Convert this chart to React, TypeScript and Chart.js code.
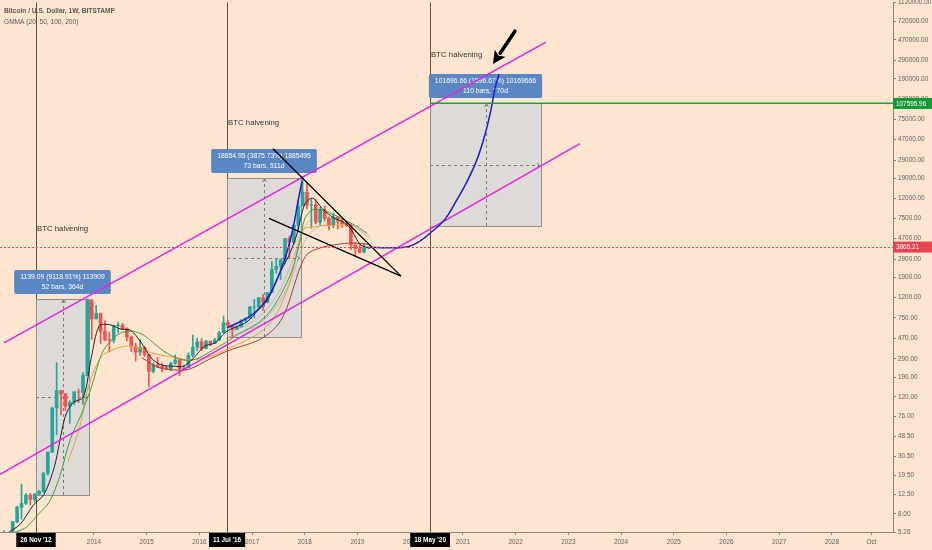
import { useEffect, useRef } from 'react';
import { Chart, registerables } from 'chart.js';

Chart.register(...registerables);

const FONT = '"Liberation Sans", Arial, sans-serif';
const BG = '#fde5cf';

// visible window (decimal years) and price range of the log axis
const xMin = 2012.217;
const xMax = 2029.16;
const yMin = 5.26;
const yMax = 1120000;

const xTickValues = [2013, 2014, 2015, 2016, 2017, 2018, 2019, 2020, 2021, 2022, 2023, 2024, 2025, 2026, 2027, 2028, 2028.75];
const yTickValues = [1120000, 720000, 470000, 290000, 190000, 120000, 75000, 47000, 29000, 19000, 12000, 7500, 4700, 2900, 1900, 1200, 750, 470, 290, 190, 120, 76, 48.5, 30.5, 19.5, 12.5, 8, 5.26];

// candles, one per month
const candleMonths = [
  '2012-04', '2012-05', '2012-06', '2012-07', '2012-08', '2012-09', '2012-10', '2012-11', '2012-12',
  '2013-01', '2013-02', '2013-03', '2013-04', '2013-05', '2013-06', '2013-07', '2013-08', '2013-09', '2013-10', '2013-11', '2013-12',
  '2014-01', '2014-02', '2014-03', '2014-04', '2014-05', '2014-06', '2014-07', '2014-08', '2014-09', '2014-10', '2014-11', '2014-12',
  '2015-01', '2015-02', '2015-03', '2015-04', '2015-05', '2015-06', '2015-07', '2015-08', '2015-09', '2015-10', '2015-11', '2015-12',
  '2016-01', '2016-02', '2016-03', '2016-04', '2016-05', '2016-06', '2016-07', '2016-08', '2016-09', '2016-10', '2016-11', '2016-12',
  '2017-01', '2017-02', '2017-03', '2017-04', '2017-05', '2017-06', '2017-07', '2017-08', '2017-09', '2017-10', '2017-11', '2017-12',
  '2018-01', '2018-02', '2018-03', '2018-04', '2018-05', '2018-06', '2018-07', '2018-08', '2018-09', '2018-10', '2018-11', '2018-12',
  '2019-01', '2019-02', '2019-03',
];
const opens = [
  4.9, 5.0, 5.2, 6.7, 9.3, 10.2, 12.4, 11.2, 12.6,
  13.5, 20.4, 33.4, 93, 139, 129, 97, 106, 135, 133, 198, 1120,
  732, 830, 550, 450, 445, 625, 635, 585, 480, 385, 338, 378,
  320, 217, 254, 244, 236, 230, 263, 284, 230, 236, 314, 378,
  430, 368, 437, 416, 448, 531, 673, 624, 575, 609, 700, 742,
  963, 970, 1190, 1080, 1350, 2300, 2480, 2870, 4700, 4340, 6450, 10000,
  13800, 10200, 10300, 6900, 9240, 7500, 6400, 7730, 7030, 6630, 6370, 4040,
  3740, 3440, 3820,
];
const highs = [
  5.4, 5.2, 6.7, 9.6, 16.0, 12.8, 12.9, 12.9, 13.8,
  20.9, 33.5, 95, 266, 140, 129, 110, 135, 144, 211, 1163, 1150,
  1000, 840, 700, 540, 630, 680, 660, 600, 490, 415, 455, 385,
  320, 265, 300, 262, 247, 268, 318, 285, 247, 333, 502, 470,
  465, 446, 439, 467, 549, 780, 705, 630, 625, 720, 755, 980,
  1150, 1210, 1290, 1350, 2760, 2980, 2930, 4740, 4980, 6470, 11400, 19666,
  17200, 11800, 11700, 9760, 9990, 7780, 8500, 7760, 7410, 7000, 6590, 4300,
  4100, 4200, 3920,
];
const lows = [
  4.7, 4.9, 5.2, 6.5, 7.1, 9.9, 9.9, 10.5, 12.5,
  13.2, 19.6, 33.2, 50, 79, 88, 65, 100, 105, 101, 195, 455,
  730, 410, 440, 340, 420, 525, 570, 440, 345, 275, 315, 305,
  152, 210, 237, 214, 227, 220, 254, 198, 225, 236, 303, 350,
  350, 367, 392, 413, 444, 530, 605, 470, 570, 605, 685, 742,
  750, 930, 890, 1060, 1350, 2100, 1830, 2650, 2970, 4100, 5500, 10000,
  9400, 6000, 6600, 6430, 7040, 5750, 6070, 5880, 6100, 6200, 3650, 3122,
  3350, 3380, 3760,
];
const closes = [
  5.0, 5.2, 6.7, 9.3, 10.2, 12.4, 11.2, 12.6, 13.5,
  20.4, 33.4, 93, 139, 129, 97, 106, 135, 133, 198, 1120, 732,
  830, 550, 450, 445, 625, 635, 585, 480, 385, 338, 378, 320,
  217, 254, 244, 236, 230, 263, 284, 230, 236, 314, 378, 430,
  368, 437, 416, 448, 531, 673, 624, 575, 609, 700, 742, 963,
  970, 1190, 1080, 1350, 2300, 2480, 2870, 4700, 4340, 6450, 10000, 13800,
  10200, 10300, 6900, 9240, 7500, 6400, 7730, 7030, 6630, 6370, 4040, 3740,
  3440, 3820, 3865.21,
];

// GMMA lines, [year, price]
const gmmaBlack: [number, number][] = [
  [2012.35, 5.1], [2012.6, 6.3], [2012.85, 9.8], [2013.05, 12.5], [2013.25, 24], [2013.45, 75], [2013.6, 105],
  [2013.8, 120], [2013.95, 300], [2014.1, 620], [2014.3, 640], [2014.5, 580], [2014.7, 560], [2014.9, 420],
  [2015.1, 290], [2015.3, 250], [2015.5, 245], [2015.7, 245], [2015.9, 300], [2016.1, 390], [2016.3, 420],
  [2016.5, 540], [2016.7, 610], [2016.9, 680], [2017.1, 880], [2017.3, 1150], [2017.5, 2000], [2017.7, 3200],
  [2017.85, 5200], [2018.0, 10500], [2018.15, 12000], [2018.35, 9200], [2018.55, 7600], [2018.75, 6800],
  [2018.9, 5600], [2019.05, 4100], [2019.24, 3750],
];
const gmmaGreen: [number, number][] = [
  [2012.35, 4.9], [2012.7, 5.8], [2012.95, 8], [2013.15, 10.5], [2013.35, 19], [2013.55, 45], [2013.75, 78],
  [2013.95, 150], [2014.15, 330], [2014.35, 460], [2014.55, 540], [2014.75, 550], [2014.95, 500], [2015.15, 410],
  [2015.35, 340], [2015.55, 300], [2015.75, 280], [2015.95, 290], [2016.15, 330], [2016.35, 380], [2016.55, 440],
  [2016.75, 520], [2016.95, 590], [2017.15, 690], [2017.35, 880], [2017.55, 1300], [2017.75, 2200], [2017.9, 4200],
  [2018.0, 7500], [2018.15, 9200], [2018.35, 9000], [2018.55, 8200], [2018.8, 7000], [2019.0, 6200], [2019.18, 5300],
];
const gmmaOrange: [number, number][] = [
  [2013.51, 27], [2013.73, 60], [2013.89, 150], [2014.11, 290], [2014.3, 350], [2014.63, 390], [2014.87, 370],
  [2015.12, 330], [2015.44, 305], [2015.76, 285], [2016.0, 290], [2016.3, 320], [2016.6, 380], [2016.9, 450],
  [2017.2, 560], [2017.45, 800], [2017.7, 1600], [2017.85, 3500], [2017.97, 5800], [2018.2, 6200], [2018.5, 6400],
  [2018.86, 6400],
];
const gmmaRed: [number, number][] = [
  [2014.9, 300], [2015.2, 240], [2015.5, 225], [2015.8, 228], [2016.2, 290], [2016.6, 360], [2017.0, 420],
  [2017.25, 490], [2017.5, 650], [2017.66, 950], [2017.8, 1600], [2017.91, 2400], [2018.05, 3300], [2018.3, 3800],
  [2018.6, 4100], [2018.9, 4250], [2019.24, 4100],
];
const gmmaGreyA: [number, number][] = [
  [2016.5, 520], [2017.0, 680], [2017.3, 950], [2017.55, 1500], [2017.75, 2700], [2017.9, 4500], [2018.05, 6800],
  [2018.3, 7600], [2018.6, 7500], [2018.85, 6900], [2019.05, 5600], [2019.24, 4700],
];
const gmmaGreyB: [number, number][] = [
  [2016.5, 470], [2017.0, 590], [2017.3, 780], [2017.55, 1150], [2017.75, 1900], [2017.9, 3200], [2018.05, 5000],
  [2018.3, 6300], [2018.6, 6800], [2018.85, 6600], [2019.05, 5700], [2019.24, 5000],
];

// drawings
const channelUpper: [number, number][] = [[2012.293, 421], [2022.575, 444900]];
const channelLower: [number, number][] = [[2012.217, 20.0], [2023.22, 42370]];
const wedgeTop: [number, number][] = [[2017.396, 37750], [2019.825, 1972]];
const wedgeBottom: [number, number][] = [[2017.32, 7515], [2019.825, 1972]];
const curve2017: [number, number][] = [
  [2016.524, 594], [2017.017, 820], [2017.339, 1303], [2017.624, 2985], [2017.776, 5970], [2017.871, 11120], [2017.946, 17620],
];
const curve2021: [number, number][] = [
  [2019.237, 3846], [2019.901, 3846], [2020.147, 4316], [2020.375, 5321], [2020.659, 7345], [2020.868, 11120],
  [2021.077, 17620], [2021.267, 29300], [2021.418, 52120], [2021.532, 92700], [2021.608, 150600], [2021.684, 212800],
];
const arrowFrom: [number, number] = [2021.987, 574000];
const arrowTo: [number, number] = [2021.57, 268000];

const halvingDates = [2012.9, 2016.525, 2020.377];
const halvingDateLabels = ["26 Nov '12", "11 Jul '16", "18 May '20"];
const halvingNoteLevels = [5830, 68700, 329600];

const rangeFrom = [2012.9, 2016.525, 2020.377];
const rangeTo = [2013.897, 2017.925, 2022.485];
const rangeLow = [12.49, 486.5, 6369.3];
const rangeHigh = [1151.58, 19341.45, 108066];
const rangeText = ['1139.09 (9118.91%) 113909', '18854.95 (3875.73%) 1885495', '101696.66 (1596.67%) 10169666'];
const rangeBars = ['52 bars, 364d', '73 bars, 511d', '110 bars, 770d'];

const targetLevel = 107595.96;
const lastPrice = 3865.21;

const UP = '#26a69a';
const DOWN = '#ef5350';

const pts = (arr: [number, number][]) => arr.map(([x, y]) => ({ x, y }));

const overlay = {
  id: 'tvOverlay',
  beforeDraw(chart: any) {
    const { ctx, width, height } = chart;
    ctx.save();
    ctx.fillStyle = BG;
    ctx.fillRect(0, 0, width, height);
    ctx.restore();
  },
  beforeDatasetsDraw(chart: any) {
    const { ctx, chartArea: a, scales } = chart;
    const xs = scales.x;
    const ys = scales.y;
    ctx.save();
    ctx.beginPath();
    ctx.rect(a.left, a.top, a.right - a.left, a.bottom - a.top);
    ctx.clip();

    // halving verticals
    ctx.strokeStyle = '#5e5248';
    ctx.lineWidth = 1;
    halvingDates.forEach((d) => {
      const px = Math.round(xs.getPixelForValue(d)) + 0.5;
      ctx.beginPath();
      ctx.moveTo(px, a.top);
      ctx.lineTo(px, a.bottom);
      ctx.stroke();
    });

    // halving notes
    ctx.fillStyle = '#333';
    ctx.font = `7.8px ${FONT}`;
    ctx.textBaseline = 'middle';
    ctx.textAlign = 'left';
    halvingDates.forEach((d, i) => {
      ctx.fillText('BTC halvening', xs.getPixelForValue(d) + 1, ys.getPixelForValue(halvingNoteLevels[i]));
    });

    // date/price range boxes
    rangeFrom.forEach((from, i) => {
      const l = Math.round(xs.getPixelForValue(from));
      const r = Math.round(xs.getPixelForValue(rangeTo[i]));
      const t = Math.round(ys.getPixelForValue(rangeHigh[i]));
      const b = Math.round(ys.getPixelForValue(rangeLow[i]));
      ctx.fillStyle = 'rgba(214,215,218,0.8)';
      ctx.fillRect(l, t, r - l, b - t);
      ctx.strokeStyle = '#8e8e8e';
      ctx.lineWidth = 1;
      ctx.setLineDash([]);
      ctx.strokeRect(l + 0.5, t + 0.5, r - l, b - t);

      const cx = Math.round((l + r) / 2) + 0.5;
      const cy = Math.round((t + b) / 2) + 0.5;
      ctx.strokeStyle = '#7a7a7a';
      ctx.setLineDash([3, 3]);
      ctx.beginPath();
      ctx.moveTo(cx, b);
      ctx.lineTo(cx, t + 1);
      ctx.moveTo(l, cy);
      ctx.lineTo(r - 1, cy);
      ctx.stroke();
      ctx.setLineDash([]);
      ctx.beginPath();
      ctx.moveTo(cx - 2, t + 4);
      ctx.lineTo(cx, t + 1);
      ctx.lineTo(cx + 2, t + 4);
      ctx.moveTo(r - 4, cy - 2);
      ctx.lineTo(r - 1, cy);
      ctx.lineTo(r - 4, cy + 2);
      ctx.stroke();

      // label
      ctx.font = `6.8px ${FONT}`;
      const w = Math.max(ctx.measureText(rangeText[i]).width, ctx.measureText(rangeBars[i]).width) + 12;
      const h = 24;
      const bx = (l + r) / 2 - w / 2;
      const by = t - 5 - h;
      ctx.fillStyle = '#5b86c4';
      ctx.beginPath();
      ctx.roundRect(bx, by, w, h, 2);
      ctx.fill();
      ctx.fillStyle = '#ffffff';
      ctx.textAlign = 'center';
      ctx.textBaseline = 'middle';
      ctx.fillText(rangeText[i], (l + r) / 2, by + 7.5);
      ctx.fillText(rangeBars[i], (l + r) / 2, by + 17);
    });
    ctx.restore();
  },
  afterDatasetsDraw(chart: any) {
    const { ctx, chartArea: a, scales } = chart;
    const xs = scales.x;
    const ys = scales.y;
    ctx.save();
    ctx.beginPath();
    ctx.rect(a.left, a.top, a.right - a.left, a.bottom - a.top);
    ctx.clip();

    // target level
    const gy = Math.round(ys.getPixelForValue(targetLevel));
    ctx.fillStyle = '#16a534';
    ctx.fillRect(xs.getPixelForValue(halvingDates[2]), gy - 0.5, a.right - xs.getPixelForValue(halvingDates[2]), 1.5);

    // last price
    const ry = Math.round(ys.getPixelForValue(lastPrice)) + 0.5;
    ctx.strokeStyle = '#e8434f';
    ctx.lineWidth = 1;
    ctx.setLineDash([2, 2]);
    ctx.beginPath();
    ctx.moveTo(a.left, ry);
    ctx.lineTo(a.right, ry);
    ctx.stroke();
    ctx.setLineDash([]);

    // arrow
    const x0 = xs.getPixelForValue(arrowFrom[0]);
    const y0 = ys.getPixelForValue(arrowFrom[1]);
    const x1 = xs.getPixelForValue(arrowTo[0]);
    const y1 = ys.getPixelForValue(arrowTo[1]);
    const len = Math.hypot(x1 - x0, y1 - y0);
    const ux = (x1 - x0) / len;
    const uy = (y1 - y0) / len;
    const head = 13;
    const hx = x1 - ux * head;
    const hy = y1 - uy * head;
    ctx.strokeStyle = '#000';
    ctx.fillStyle = '#000';
    ctx.lineWidth = 3.5;
    ctx.lineCap = 'round';
    ctx.beginPath();
    ctx.moveTo(x0, y0);
    ctx.lineTo(hx, hy);
    ctx.stroke();
    ctx.beginPath();
    ctx.moveTo(x1, y1);
    ctx.lineTo(hx - uy * 6.5, hy + ux * 6.5);
    ctx.lineTo(hx + ux * 3, hy + uy * 3);
    ctx.lineTo(hx + uy * 6.5, hy - ux * 6.5);
    ctx.closePath();
    ctx.fill();
    ctx.restore();
  },
  afterDraw(chart: any) {
    const { ctx, chartArea: a, scales, width } = chart;
    const xs = scales.x;
    const ys = scales.y;
    ctx.save();

    // header
    ctx.textAlign = 'left';
    ctx.textBaseline = 'middle';
    ctx.fillStyle = '#5a5a5a';
    ctx.font = `bold 6.6px ${FONT}`;
    ctx.fillText('Bitcoin / U.S. Dollar, 1W, BITSTAMP', 4, 11);
    ctx.font = `6.6px ${FONT}`;
    ctx.fillText('GMMA (20, 50, 100, 200)', 4, 22);

    // price labels on the axis
    const priceTag = (v: number, color: string) => {
      const py = ys.getPixelForValue(v);
      ctx.fillStyle = color;
      ctx.fillRect(a.right, py - 5.5, width - a.right, 11);
      ctx.fillStyle = '#fff';
      ctx.font = `6.4px ${FONT}`;
      ctx.textAlign = 'left';
      ctx.fillText(v.toFixed(2), a.right + 3, py + 0.5);
    };
    priceTag(targetLevel, '#14993a');
    priceTag(lastPrice, '#e8434f');

    // date tags on the time axis
    ctx.font = `bold 6.4px ${FONT}`;
    ctx.textAlign = 'center';
    halvingDates.forEach((d, i) => {
      const px = xs.getPixelForValue(d);
      const w = ctx.measureText(halvingDateLabels[i]).width + 8;
      ctx.fillStyle = '#000';
      ctx.fillRect(px - w / 2, a.bottom + 1, w, 14);
      ctx.fillStyle = '#fff';
      ctx.fillText(halvingDateLabels[i], px, a.bottom + 8.5);
    });
    ctx.restore();
  },
};

export default function App() {
  const chartRef = useRef<HTMLCanvasElement>(null);
  const chartInstance = useRef<Chart | null>(null);

  useEffect(() => {
    document.body.style.margin = '0';
    if (!chartRef.current) return;
    if (chartInstance.current) chartInstance.current.destroy();

    const ctx = chartRef.current.getContext('2d');
    if (!ctx) return;

    const candleX = candleMonths.map((m) => {
      const [yr, mo] = m.split('-').map(Number);
      return yr + (mo - 0.5) / 12;
    });
    const candleColors = closes.map((c, i) => (c >= opens[i] ? UP : DOWN));

    const lineSet = (data: [number, number][], color: string, width: number, order: number, tension = 0.3) => ({
      type: 'line' as const,
      data: pts(data),
      borderColor: color,
      borderWidth: width,
      pointRadius: 0,
      tension,
      order,
    });

    chartInstance.current = new Chart(ctx, {
      type: 'bar',
      data: {
        datasets: [
          {
            type: 'bar',
            data: candleX.map((x, i) => ({ x, y: [lows[i], highs[i]] })) as any,
            backgroundColor: candleColors,
            barThickness: 1,
            grouped: false,
            order: 20,
          },
          {
            type: 'bar',
            data: candleX.map((x, i) => ({ x, y: [Math.min(opens[i], closes[i]), Math.max(opens[i], closes[i])] })) as any,
            backgroundColor: candleColors,
            barThickness: 3,
            grouped: false,
            order: 19,
          },
          lineSet(gmmaGreyB, 'rgba(150,140,130,0.55)', 0.8, 18),
          lineSet(gmmaGreyA, 'rgba(150,140,130,0.55)', 0.8, 17),
          lineSet(gmmaRed, '#b03a2e', 1, 16),
          lineSet(gmmaOrange, '#f0a030', 1, 15),
          lineSet(gmmaGreen, '#3f9e3f', 1, 14),
          lineSet(gmmaBlack, '#222222', 1, 13),
          lineSet(channelUpper, '#e323e0', 1.5, 6, 0),
          lineSet(channelLower, '#e323e0', 1.5, 6, 0),
          lineSet(wedgeTop, '#000000', 1.3, 5, 0),
          lineSet(wedgeBottom, '#000000', 1.3, 5, 0),
          lineSet(curve2017, '#1c1ccc', 1.5, 4, 0.4),
          lineSet(curve2021, '#1c1ccc', 1.5, 4, 0.4),
        ] as any,
      },
      options: {
        responsive: false,
        devicePixelRatio: 1,
        animation: false,
        events: [],
        layout: { padding: 0 },
        plugins: {
          legend: { display: false },
          tooltip: { enabled: false },
        },
        scales: {
          x: {
            type: 'linear',
            min: xMin,
            max: xMax,
            offset: false,
            afterBuildTicks: (s: any) => {
              s.ticks = xTickValues.map((v) => ({ value: v }));
            },
            afterFit: (s: any) => {
              s.height = 18;
            },
            grid: { drawOnChartArea: false, offset: false, tickLength: 3, color: '#8d8780' },
            border: { color: '#8d8780' },
            ticks: {
              autoSkip: false,
              maxRotation: 0,
              padding: 3,
              color: '#5f5f5f',
              font: { family: FONT, size: 6.4 },
              callback: (v: any) => (Number(v) === 2028.75 ? 'Oct' : String(v)),
            },
          },
          y: {
            type: 'logarithmic',
            position: 'right',
            min: yMin,
            max: yMax,
            afterBuildTicks: (s: any) => {
              s.ticks = yTickValues.map((v) => ({ value: v }));
            },
            afterFit: (s: any) => {
              s.width = 39;
            },
            grid: { drawOnChartArea: false, tickLength: 3, color: '#8d8780' },
            border: { color: '#8d8780' },
            ticks: {
              autoSkip: false,
              padding: 2,
              color: '#5f5f5f',
              font: { family: FONT, size: 6.4, lineHeight: 0.1 },
              callback: (v: any) => Number(v).toFixed(2),
            },
          },
        },
      } as any,
      plugins: [overlay],
    });

    return () => {
      if (chartInstance.current) {
        chartInstance.current.destroy();
        chartInstance.current = null;
      }
    };
  }, []);

  return (
    <div style={{ width: 932, height: 550 }}>
      <canvas ref={chartRef} width={932} height={550} style={{ display: 'block' }}></canvas>
    </div>
  );
}
